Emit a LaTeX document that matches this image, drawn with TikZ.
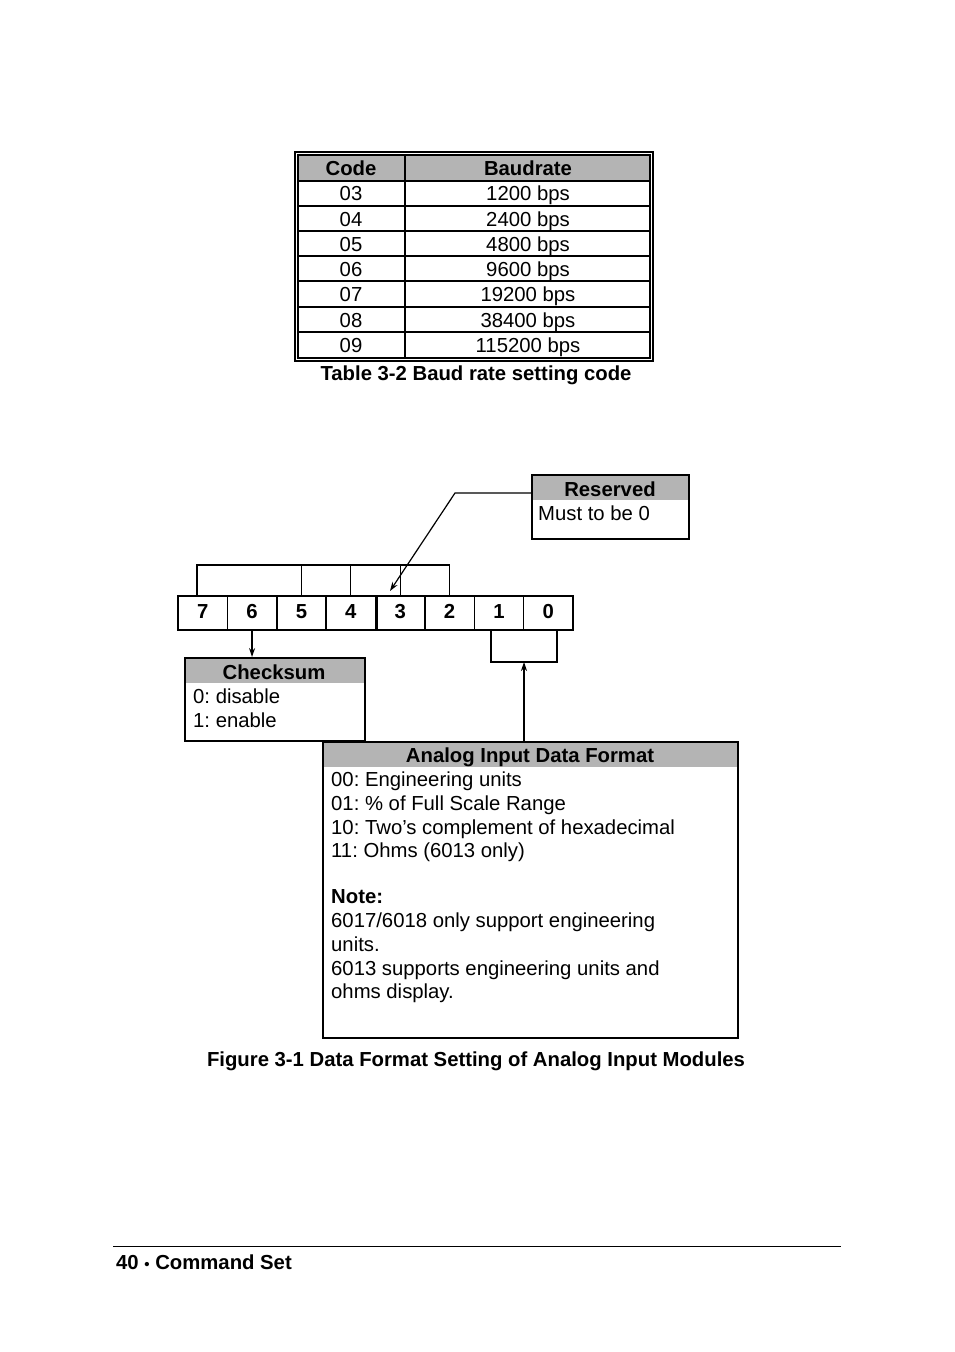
\documentclass[tikz,border=0pt]{standalone}
\usepackage{fontspec}
\setmainfont{Liberation Sans}
\usetikzlibrary{arrows.meta}
\definecolor{hdrgray}{RGB}{180,180,180}
\begin{document}
\frenchspacing
\begin{tikzpicture}[x=1pt,y=-1pt,
  txt/.style={inner sep=0pt, font=\fontsize{20.3}{24}\selectfont},
  btxt/.style={inner sep=0pt, font=\fontsize{20.3}{24}\selectfont\bfseries},
  bit/.style={draw, line width=1.5pt, minimum width=49.375pt, minimum height=34pt, inner sep=0pt, text height=14.6pt, text depth=0pt, font=\fontsize{20.3}{24}\selectfont\bfseries},
  frame/.style={draw, line width=1.5pt, inner sep=0pt, anchor=north west},
  conn/.style={line width=1.2pt},
  arr/.style={conn, -{Stealth[length=9pt,width=6pt]}}]
\useasboundingbox (0,0) rectangle (954,1352);

% ---------------- Table ----------------
\fill[hdrgray] (298,155) rectangle (650,181);
\draw[line width=1.2pt] (295,152) rectangle (653,361);
\draw[line width=1.5pt] (298,155) rectangle (650,358);
\foreach \yy in {181,206,231,256,281,307,332}
  \draw[line width=1.5pt] (298,\yy) -- (650,\yy);
\draw[line width=1.5pt] (405,155) -- (405,358);
\node[btxt, anchor=base] (hcode) at (351,175) {Code};
\node[btxt, anchor=base] (hbaud) at (528,175) {Baudrate};
\foreach \c/\b/\yy [count=\i] in {03/1200 bps/200, 04/2400 bps/226, 05/4800 bps/251, 06/9600 bps/276, 07/19200 bps/301, 08/38400 bps/327, 09/115200 bps/352} {
  \node[txt, anchor=base] (code\i) at (351,\yy) {\c};
  \node[txt, anchor=base] (baud\i) at (528,\yy) {\b};
}
\node[btxt, anchor=base] (tabcap) at (476,380) {Table 3-2 Baud rate setting code};

% ---------------- Bit boxes ----------------
\foreach \n [count=\i from 0] in {7,6,5,4,3,2,1,0}
  \node[bit] (b\n) at ({202.69+\i*49.375},613) {\raisebox{1.5pt}{\n}};
\draw[line width=2.5pt] (b4.north east) -- (b4.south east);

% top bracket
\coordinate (top) at (0,565);
\coordinate (brL) at (197,565);
\draw[conn] (brL |- b7.north) -- (brL) -- (b2.north |- top) -- (b2.north);
\draw[conn] (b5.north) -- (b5.north |- top);
\draw[conn] (b4.north) -- (b4.north |- top);
\draw[conn] (b3.north) -- (b3.north |- top);

% ---------------- Reserved ----------------
\fill[hdrgray] (531,474) rectangle (688,500);
\node[frame, minimum width=157pt, minimum height=64pt] (res) at (531,474) {};
\node[btxt, anchor=base] (restitle) at (610,496) {Reserved};
\node[txt, anchor=base west] (restext) at (538,520) {Must to be 0};
\coordinate (resbend) at (455,493);
\coordinate (restip) at (390,591);
\draw[arr] (res.west |- resbend) -- (resbend) -- (restip);

% ---------------- Checksum ----------------
\fill[hdrgray] (184,657) rectangle (364,683);
\node[frame, minimum width=180pt, minimum height=83pt] (cks) at (184,657) {};
\node[btxt, anchor=base] (ckstitle) at (274,679) {Checksum};
\node[txt, anchor=base west] (cks0) at (193,703) {0: disable};
\node[txt, anchor=base west] (cks1) at (193,727) {1: enable};
\draw[arr] (b6.south) -- (b6.south |- cks.north);

% ---------------- Analog Input Data Format ----------------
\fill[hdrgray] (322,741) rectangle (737,767);
\node[frame, minimum width=415pt, minimum height=296pt] (adf) at (322,741) {};
\node[btxt, anchor=base] (adftitle) at (530,762) {Analog Input Data Format};
\foreach \t/\yy [count=\i] in {{00: Engineering units}/786, {01: \% of Full Scale Range}/810, {10: Two’s complement of hexadecimal}/834, {11: Ohms (6013 only)}/857, {6017/6018 only support engineering}/927, {units.}/951, {6013 supports engineering units and}/975, {ohms display.}/998}
  \node[txt, anchor=base west] (adf\i) at (331,\yy) {\t};
\node[btxt, anchor=base west] (note) at (331,903) {Note:};

% bracket under bits 1 and 0
\coordinate (brA) at (491,662);
\coordinate (brB) at (557,662);
\coordinate (brM) at (524,662);
\draw[conn] (brA |- b1.south) -- (brA) -- (brB) -- (brB |- b0.south);
\draw[arr] (brM |- adf.north) -- (brM);

\node[btxt, anchor=base] (figcap) at (476,1066) {Figure 3-1 Data Format Setting of Analog Input Modules};

% ---------------- Footer ----------------
\coordinate (fl) at (113,1246);
\coordinate (fr) at (841,1246);
\draw[line width=0.9pt] (fl) -- (fr);
\node[inner sep=0pt, anchor=base west, font=\fontsize{20.3}{24}\selectfont\bfseries] (footer) at (116,1269) {40 {\fontsize{15}{14}\selectfont•} Command Set};
\end{tikzpicture}
\end{document}
